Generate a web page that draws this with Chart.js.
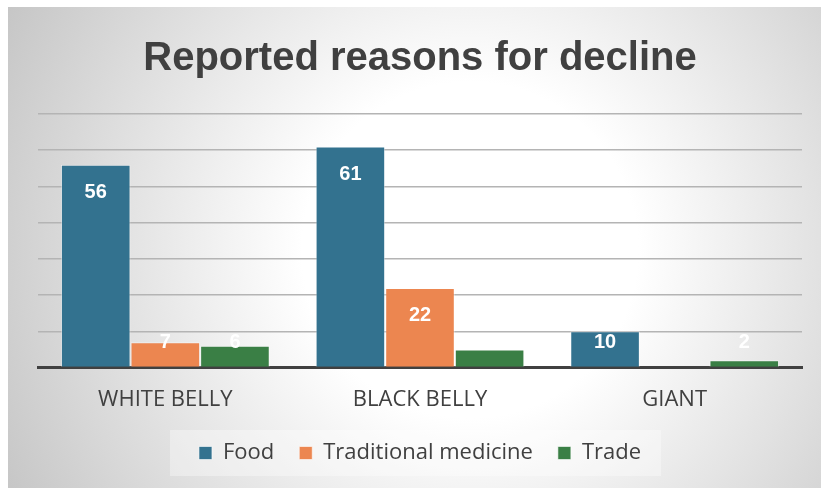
<!DOCTYPE html>
<html>
<head>
<meta charset="utf-8">
<style>
  html, body { margin: 0; padding: 0; background: #ffffff; }
  #wrap { position: absolute; left: 0; top: 0; width: 821px; height: 488px; }
</style>
<script src="https://cdn.jsdelivr.net/npm/chart.js@4/dist/chart.umd.min.js"></script>
</head>
<body>
<div id="wrap"><canvas id="c" width="821" height="488"></canvas></div>
<script>
const categories = ["WHITE BELLY", "BLACK BELLY", "GIANT"];
const seriesNames = ["Food", "Traditional medicine", "Trade"];
const foodValues = [56, 61, 10];
const medicineValues = [7, 22, 0];
const tradeValues = [6, 5, 2];
const titleText = "Reported reasons for decline";

const colors = ["#33728f", "#ec8650", "#3a7f45"];

const bgPlugin = {
  id: 'bg',
  afterLayout(chart) {
    // tighten the gap between category labels and legend
    const lg = chart.legend;
    if (lg) { lg.top -= 7; lg.bottom -= 7; }
  },
  beforeDraw(chart) {
    const ctx = chart.ctx;
    const W = chart.width, H = chart.height;
    ctx.save();
    ctx.fillStyle = '#ffffff';
    ctx.fillRect(0, 0, W, H);
    const g = ctx.createRadialGradient(470, 250, 0, 470, 250, 560);
    g.addColorStop(0, '#ffffff');
    g.addColorStop(0.3, '#ffffff');
    g.addColorStop(1, '#c0c0c0');
    ctx.fillStyle = g;
    ctx.fillRect(8, 7, W - 8, H - 7);
    // legend background
    const lg = chart.legend;
    if (lg && lg.legendHitBoxes && lg.legendHitBoxes.length) {
      const hb = lg.legendHitBoxes;
      const x0 = hb[0].left - 29;
      const last = hb[hb.length - 1];
      const x1 = last.left + last.width + 20;
      const yc = lg.top + (hb[0].top - lg.top) + hb[0].height / 2;
      ctx.fillStyle = 'rgba(255,255,255,0.35)';
      ctx.fillRect(x0, yc - 23, x1 - x0, 46);
    }
    ctx.restore();
  }
};

const labelPlugin = {
  id: 'vlabels',
  afterDatasetsDraw(chart) {
    const ctx = chart.ctx;
    ctx.save();
    ctx.font = 'bold 20px "Liberation Sans", Arial, sans-serif';
    ctx.fillStyle = '#ffffff';
    ctx.textAlign = 'center';
    ctx.textBaseline = 'middle';
    chart.data.datasets.forEach((ds, di) => {
      const meta = chart.getDatasetMeta(di);
      meta.data.forEach((el, i) => {
        const v = ds.data[i];
        if (!v) return;
        const y = Math.min(el.y + 28, el.base - 24);
        ctx.fillText(String(v), el.x, y);
      });
    });
    ctx.restore();
  }
};

const ctx = document.getElementById('c').getContext('2d');
new Chart(ctx, {
  type: 'bar',
  data: {
    labels: categories,
    datasets: [
      { label: seriesNames[0], data: foodValues, backgroundColor: colors[0] },
      { label: seriesNames[1], data: medicineValues, backgroundColor: colors[1] },
      { label: seriesNames[2], data: tradeValues, backgroundColor: colors[2] }
    ].map(d => Object.assign(d, {
      borderColor: 'rgba(255,255,255,0.45)',
      borderWidth: 1,
      categoryPercentage: 0.82,
      barPercentage: 1.0
    }))
  },
  options: {
    responsive: false,
    animation: false,
    devicePixelRatio: 1,
    layout: { padding: { left: 38, right: 19, top: 22, bottom: 7 } },
    plugins: {
      title: {
        display: true,
        text: titleText,
        color: '#404040',
        font: { family: '"Liberation Sans", Arial, sans-serif', size: 40, weight: 'bold' },
        padding: { top: 13, bottom: 31 }
      },
      legend: {
        position: 'bottom',
        labels: {
          color: '#404040',
          font: { family: '"Open Sans", "Liberation Sans", Arial, sans-serif', size: 22 },
          boxWidth: 13,
          boxHeight: 13,
          padding: 25,
          generateLabels(chart) {
            return chart.data.datasets.map((ds, i) => ({
              text: ds.label,
              fillStyle: ds.backgroundColor,
              strokeStyle: 'rgba(255,255,255,0.6)',
              lineWidth: 1,
              hidden: false,
              datasetIndex: i,
              fontColor: '#404040'
            }));
          }
        }
      },
      tooltip: { enabled: false }
    },
    scales: {
      x: {
        grid: { display: false },
        border: { display: true, color: '#404040', width: 3 },
        ticks: {
          color: '#404040',
          font: { family: '"Open Sans", "Liberation Sans", Arial, sans-serif', size: 22 },
          padding: 11
        }
      },
      y: {
        min: 0,
        max: 70,
        ticks: { display: false, stepSize: 10 },
        border: { display: false },
        grid: {
          color: (c) => c.tick && c.tick.value === 0 ? 'rgba(0,0,0,0)' : '#b4b4b4',
          lineWidth: 1.5,
          drawTicks: false
        }
      }
    }
  },
  plugins: [bgPlugin, labelPlugin]
});
</script>
</body>
</html>
